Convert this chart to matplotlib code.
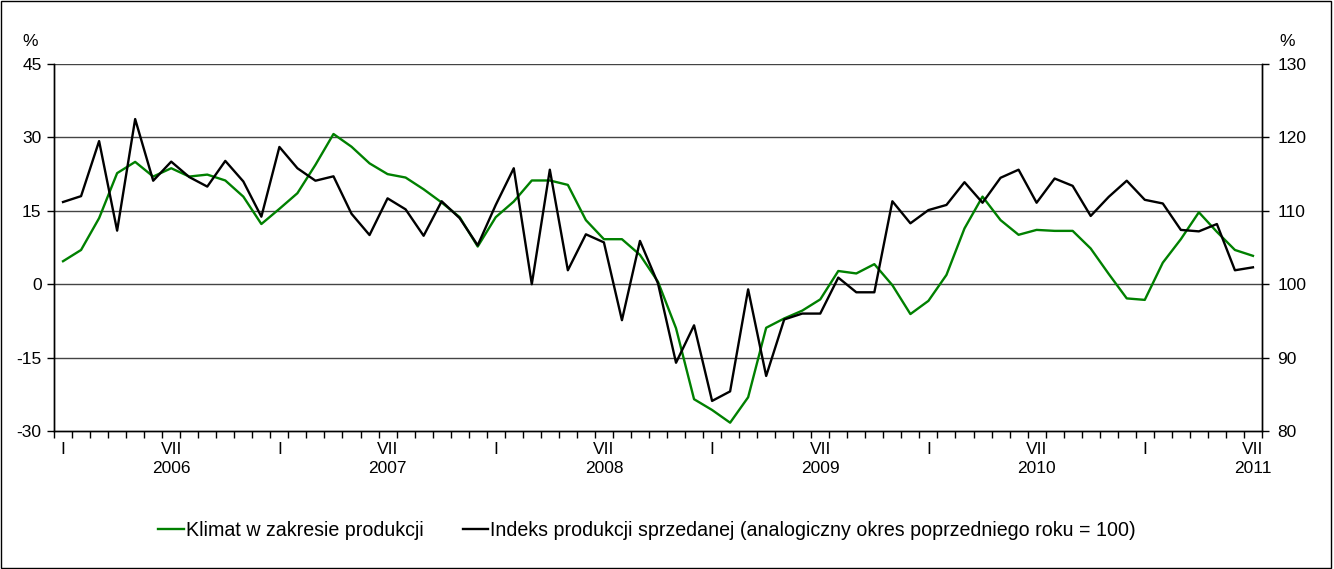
import matplotlib.pyplot as plt
from matplotlib.patches import Rectangle

plt.rcParams['font.family'] = ['Liberation Sans', 'DejaVu Sans']
plt.rcParams['axes.unicode_minus'] = False

# miesiace I.2006 - VII.2011
months = [(2006 + i // 12, i % 12 + 1) for i in range(67)]

# Klimat w zakresie produkcji (lewa os, %)
klimat = [4.7, 7.0, 13.5, 22.7, 25.0, 22.0, 23.7, 22.0, 22.4, 21.2, 17.9, 12.3,
          15.4, 18.6, 24.4, 30.7, 28.1, 24.7, 22.5, 21.8, 19.4, 16.7, 13.7, 7.7,
          13.7, 16.9, 21.2, 21.2, 20.3, 13.1, 9.2, 9.2, 6.0, 0.5, -9.0, -23.5,
          -25.7, -28.3, -23.1, -8.9, -7.0, -5.4, -3.1, 2.7, 2.2, 4.1, -0.2, -6.1,
          -3.4, 1.9, 11.4, 17.9, 13.1, 10.1, 11.1, 10.9, 10.9, 7.3, 2.1, -2.9,
          -3.2, 4.4, 9.2, 14.7, 10.7, 7.0, 5.8]

# Indeks produkcji sprzedanej (prawa os)
indeks = [111.2, 112.0, 119.5, 107.3, 122.5, 114.1, 116.7, 114.6, 113.3, 116.8, 114.0, 109.2,
          118.7, 115.8, 114.1, 114.7, 109.6, 106.7, 111.7, 110.2, 106.6, 111.3, 109.0, 105.3,
          110.8, 115.8, 100.0, 115.6, 101.9, 106.8, 105.7, 95.1, 105.9, 100.1, 89.3, 94.4,
          84.1, 85.4, 99.3, 87.5, 95.2, 96.0, 96.0, 100.9, 98.9, 98.9, 111.3, 108.3,
          110.1, 110.8, 113.9, 111.1, 114.5, 115.6, 111.1, 114.4, 113.4, 109.3, 111.9, 114.1,
          111.5, 111.0, 107.4, 107.2, 108.2, 101.9, 102.3]

fig = plt.figure(figsize=(13.34, 5.69), dpi=100)
ax = fig.add_axes([0.0405, 0.2425, 0.9055, 0.645])
ax2 = ax.twinx()

x = list(range(len(months)))
ax.plot(x, klimat, color='#008000', lw=1.7, label='Klimat w zakresie produkcji', zorder=3)
ax2.plot(x, indeks, color='black', lw=1.7,
         label='Indeks produkcji sprzedanej (analogiczny okres poprzedniego roku = 100)', zorder=3)

ax.set_xlim(-0.5, len(months) - 0.5)
ax.set_ylim(-30, 45)
ax.set_yticks(range(-30, 46, 15))
ax2.set_ylim(80, 130)
ax2.set_yticks(range(80, 131, 10))

for v in range(-15, 46, 15):
    ax.axhline(v, color='#444444', lw=1, zorder=1)

# kreski na granicach miesiecy, podpisy na srodkach
ax.set_xticks([i - 0.5 for i in range(len(months) + 1)])
ax.set_xticklabels([])
ax.tick_params(axis='x', which='major', length=5, direction='out', width=1)
lab_pos, lab_txt = [], []
for i, (y, m) in enumerate(months):
    if m == 1:
        lab_pos.append(i)
        lab_txt.append('I')
    elif m == 7:
        lab_pos.append(i)
        lab_txt.append('VII\n' + str(y))
ax.set_xticks(lab_pos, minor=True)
ax.set_xticklabels(lab_txt, minor=True, fontsize=12.5, linespacing=1.35)
ax.tick_params(axis='x', which='minor', length=0, pad=8)

ax.tick_params(axis='y', labelsize=12.5, length=5, width=1, pad=4)
ax2.tick_params(axis='y', labelsize=12.5, length=5, width=1, pad=6)

ax.spines['top'].set_visible(False)
ax2.spines['top'].set_visible(False)
for s in ['left', 'right', 'bottom']:
    ax.spines[s].set_linewidth(1)
    ax2.spines[s].set_linewidth(1)

fig.text(0.017, 0.92, '%', fontsize=12.5)
fig.text(0.959, 0.92, '%', fontsize=12.5)

h1, l1 = ax.get_legend_handles_labels()
h2, l2 = ax2.get_legend_handles_labels()
fig.legend(h1 + h2, l1 + l2, loc='center', bbox_to_anchor=(0.485, 0.068), ncol=2,
           frameon=False, fontsize=14.1, handlelength=1.3, handletextpad=0.1, columnspacing=2.0)

fig.patches.append(Rectangle((0.001, 0.001), 0.997, 0.997, transform=fig.transFigure,
                             fill=False, edgecolor='black', lw=1))

fig.savefig('out.png', dpi=100)
